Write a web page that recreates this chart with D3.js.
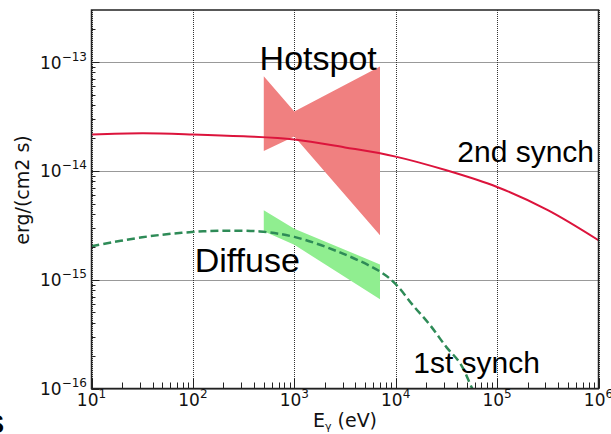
<!DOCTYPE html>
<html>
<head>
<meta charset="utf-8">
<script src="https://cdn.jsdelivr.net/npm/d3@7"></script>
<style>
  html, body { margin: 0; padding: 0; background: #fff; }
  svg { display: block; }
</style>
</head>
<body>
<svg id="chart" width="611" height="434"></svg>
<script>
// ---------------- data ----------------
const xTickValues = [1e1, 1e2, 1e3, 1e4, 1e5, 1e6];
const xTickExps = ["1", "2", "3", "4", "5", "6"];
const yTickValues = [1e-16, 1e-15, 1e-14, 1e-13];
const yTickExps = ["\u221216", "\u221215", "\u221214", "\u221213"];

// 2nd synch (red solid)
const synch2E = [10, 31.6, 100, 316, 1000, 3162, 10000, 31623, 100000, 316228, 1000000];
const synch2F = [2.15e-14, 2.21e-14, 2.16e-14, 2.075e-14, 1.94e-14, 1.64e-14, 1.35e-14, 1.01e-14, 7.1e-15, 4.35e-15, 2.3e-15];

// 1st synch (green dashed)
const synch1E = [10, 31.6, 80, 186, 457, 1000, 2818, 7080, 10000, 14790, 21880, 31620, 43150, 56750, 80000];
const synch1F = [2.03e-15, 2.45e-15, 2.70e-15, 2.81e-15, 2.77e-15, 2.47e-15, 1.78e-15, 1.18e-15, 9.1e-16, 5.82e-16, 3.81e-16, 2.40e-16, 1.71e-16, 1.0e-16, 5.0e-17];

// Hotspot bowtie
const hotE = [500, 1000, 7000];
const hotUpper = [7.4e-14, 3.5e-14, 9.1e-14];
const hotLower = [1.52e-14, 2.07e-14, 2.56e-15];

// Diffuse bowtie
const difE = [500, 1000, 7000];
const difUpper = [4.33e-15, 2.94e-15, 1.38e-15];
const difLower = [2.78e-15, 2.09e-15, 6.6e-16];

// annotations (data coordinates of the left end of the text baseline)
const labels = [
  { text: "Hotspot", E: 455, F: 8.5e-14, size: 34 },
  { text: "Diffuse", E: 104, F: 1.18e-15, size: 34 },
  { text: "2nd synch", E: 40500, F: 1.21e-14, size: 30 },
  { text: "1st synch", E: 14900, F: 1.38e-16, size: 30 }
];

// ---------------- layout ----------------
const svg = d3.select("#chart");
const L = 91.5, R = 598.5, T = 10, B = 388.5;

const x = d3.scaleLog().domain([1e1, 1e6]).range([L, R]);
const y = d3.scaleLog().domain([1e-16, 3e-13]).range([B, T]);

svg.append("defs").append("clipPath").attr("id", "plotclip")
  .append("rect").attr("x", L).attr("y", T).attr("width", R - L).attr("height", B - T);

// grid (dotted)
const px = v => Math.round(v) + 0.5;
const grid = svg.append("g");
xTickValues.forEach(v => {
  grid.append("line").attr("x1", px(x(v))).attr("x2", px(x(v))).attr("y1", T).attr("y2", B)
    .attr("stroke", "#333").attr("stroke-width", 1).attr("stroke-dasharray", "1,1");
});
yTickValues.forEach(v => {
  grid.append("line").attr("x1", L).attr("x2", R).attr("y1", px(y(v))).attr("y2", px(y(v)))
    .attr("stroke", "#333").attr("stroke-width", 1).attr("stroke-dasharray", "1,1");
});

const plot = svg.append("g").attr("clip-path", "url(#plotclip)");

function band(E, up, lo) {
  return d3.area().x((d, i) => x(E[i])).y0((d, i) => y(lo[i])).y1((d, i) => y(up[i]))(E);
}
plot.append("path").attr("d", band(hotE, hotUpper, hotLower)).attr("fill", "#f08080");
plot.append("path").attr("d", band(difE, difUpper, difLower)).attr("fill", "#90ee90");

const line = d3.line().curve(d3.curveCatmullRom.alpha(0.5));
plot.append("path")
  .attr("d", line(synch2E.map((e, i) => [x(e), y(synch2F[i])])))
  .attr("fill", "none").attr("stroke", "#dc143c").attr("stroke-width", 2);
plot.append("path")
  .attr("d", line(synch1E.map((e, i) => [x(e), y(synch1F[i])])))
  .attr("fill", "none").attr("stroke", "#2e8b57").attr("stroke-width", 2.5)
  .attr("stroke-dasharray", "8,4");

// frame
svg.append("rect").attr("x", L).attr("y", T).attr("width", R - L).attr("height", B - T)
  .attr("fill", "none").attr("stroke", "#222").attr("stroke-width", 1.5);

// ticks (inward)
const ticks = svg.append("g").attr("stroke", "#222").attr("stroke-width", 1);
const xMinor = [], yMinor = [];
for (let k = 1; k < 6; k++) for (let m = 2; m <= 9; m++) xMinor.push(m * Math.pow(10, k));
for (let k = -16; k < -12; k++) for (let m = 2; m <= 9; m++) {
  const v = m * Math.pow(10, k);
  if (v <= 3e-13) yMinor.push(v);
}
xMinor.forEach(v => ticks.append("line").attr("x1", px(x(v))).attr("x2", px(x(v))).attr("y1", B).attr("y2", B - 6));
xTickValues.forEach(v => ticks.append("line").attr("x1", px(x(v))).attr("x2", px(x(v))).attr("y1", B).attr("y2", B - 10));
yMinor.forEach(v => ticks.append("line").attr("x1", L).attr("x2", L + 4).attr("y1", px(y(v))).attr("y2", px(y(v))));
yTickValues.forEach(v => ticks.append("line").attr("x1", L).attr("x2", L + 8).attr("y1", px(y(v))).attr("y2", px(y(v))));

// tick labels
const tickFont = "DejaVu Sans, sans-serif";
xTickValues.forEach((v, i) => {
  const t = svg.append("text").attr("x", x(v)).attr("y", 406).attr("text-anchor", "middle")
    .attr("font-family", tickFont).attr("fill", "#111");
  t.append("tspan").attr("font-size", 17).text("10");
  t.append("tspan").attr("font-size", 12).attr("dy", -8).text(xTickExps[i]);
});
yTickValues.forEach((v, i) => {
  const t = svg.append("text").attr("x", 87).attr("y", y(v) + 6.6).attr("text-anchor", "end")
    .attr("font-family", tickFont).attr("fill", "#111");
  t.append("tspan").attr("font-size", 17).text("10");
  t.append("tspan").attr("font-size", 12).attr("dy", -8).text(yTickExps[i]);
});

// axis labels
const xl = svg.append("text").attr("x", (L + R) / 2).attr("y", 427).attr("text-anchor", "middle")
  .attr("font-family", tickFont).attr("font-size", 19).attr("fill", "#111");
xl.append("tspan").text("E");
xl.append("tspan").attr("font-size", 11).attr("dy", 3).text("\u03b3");
xl.append("tspan").attr("dy", -3).text(" (eV)");

svg.append("text").attr("transform", "translate(29,190) rotate(-90)")
  .attr("text-anchor", "middle").attr("font-family", tickFont).attr("font-size", 19)
  .attr("fill", "#111").text("erg/(cm2 s)");

// annotations
labels.forEach(d => {
  svg.append("text").attr("x", x(d.E)).attr("y", y(d.F))
    .attr("font-family", "Liberation Sans, Arial, sans-serif").attr("font-size", d.size)
    .attr("fill", "#000").text(d.text);
});

// partial panel letter at the bottom-left edge (cut off in the reference too)
svg.append("text").attr("x", 4).attr("y", 433).attr("text-anchor", "end")
  .attr("font-family", "Liberation Sans, Arial, sans-serif").attr("font-weight", "bold")
  .attr("font-size", 26).attr("fill", "#000").text("S");
</script>
</body>
</html>
